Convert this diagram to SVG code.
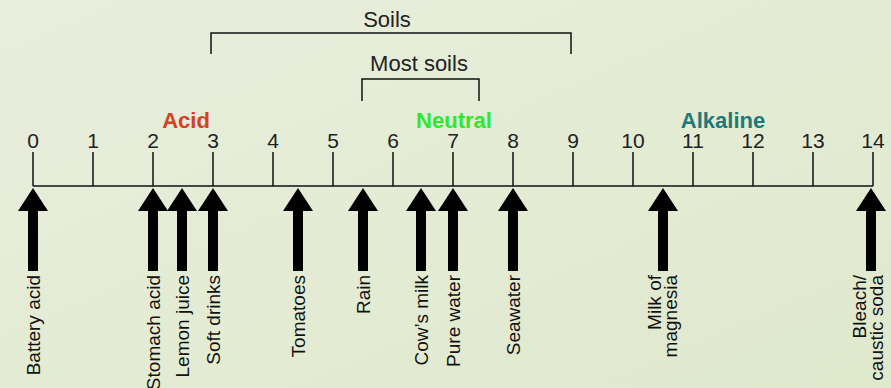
<svg xmlns="http://www.w3.org/2000/svg" width="891" height="388" viewBox="0 0 891 388">
<defs>
<linearGradient id="bg" x1="0" y1="0" x2="1" y2="1">
<stop offset="0" stop-color="#e9eedd"/>
<stop offset="1" stop-color="#dfe9cc"/>
</linearGradient>
<path id="arr" d="M0,188 L15,211 L5,211 L5,271 L-5,271 L-5,211 L-15,211 Z" fill="#000"/>
<style>
.num{font-family:"Liberation Sans",Arial,sans-serif;font-size:21px;fill:#222;text-anchor:middle}
.hd{font-family:"Liberation Sans",Arial,sans-serif;font-size:22px;font-weight:bold;text-anchor:middle}
.br{font-family:"Liberation Sans",Arial,sans-serif;font-size:22px;fill:#222;text-anchor:middle}
.lb{font-family:"Liberation Sans",Arial,sans-serif;font-size:19px;fill:#111;text-anchor:end}
.ln{stroke:#111;stroke-width:1.5;fill:none}
</style>
</defs>
<rect width="891" height="388" fill="url(#bg)"/>
<g id="axis">
<line class="ln" x1="33" y1="186" x2="873" y2="186"/>
<path class="ln" d="M33,152V186M93,152V186M153,152V186M213,152V186M273,152V186M333,152V186M393,152V186M453,152V186M513,152V186M573,152V186M633,152V186M693,152V186M753,152V186M813,152V186M873,152V186"/>
<text class="num" x="33" y="148">0</text>
<text class="num" x="93" y="148">1</text>
<text class="num" x="153" y="148">2</text>
<text class="num" x="213" y="148">3</text>
<text class="num" x="273" y="148">4</text>
<text class="num" x="333" y="148">5</text>
<text class="num" x="393" y="148">6</text>
<text class="num" x="453" y="148">7</text>
<text class="num" x="513" y="148">8</text>
<text class="num" x="573" y="148">9</text>
<text class="num" x="633" y="148">10</text>
<text class="num" x="693" y="148">11</text>
<text class="num" x="753" y="148">12</text>
<text class="num" x="813" y="148">13</text>
<text class="num" x="873" y="148">14</text>
</g>
<g id="regions">
<text class="hd" x="186" y="128" fill="#d4421e">Acid</text>
<text class="hd" x="454" y="128" fill="#2ee82e">Neutral</text>
<text class="hd" x="723" y="128" fill="#1e7a78">Alkaline</text>
</g>
<g id="soils">
<path class="ln" d="M211,54V33H571V54"/>
<text class="br" x="387" y="27">Soils</text>
</g>
<g id="most-soils">
<path class="ln" d="M362,101V79H479V101"/>
<text class="br" x="419" y="71">Most soils</text>
</g>
<g id="connectors">
<use href="#arr" x="33"/>
<use href="#arr" x="153"/>
<use href="#arr" x="182"/>
<use href="#arr" x="213"/>
<use href="#arr" x="298"/>
<use href="#arr" x="363"/>
<use href="#arr" x="421"/>
<use href="#arr" x="453"/>
<use href="#arr" x="513"/>
<use href="#arr" x="663"/>
<use href="#arr" x="871"/>
</g>
<g id="battery-acid"><text class="lb" transform="translate(40,275) rotate(-90)">Battery acid</text></g>
<g id="stomach-acid"><text class="lb" transform="translate(160,275) rotate(-90)">Stomach acid</text></g>
<g id="lemon-juice"><text class="lb" transform="translate(189,275) rotate(-90)">Lemon juice</text></g>
<g id="soft-drinks"><text class="lb" transform="translate(220,275) rotate(-90)">Soft drinks</text></g>
<g id="tomatoes"><text class="lb" transform="translate(305,275) rotate(-90)">Tomatoes</text></g>
<g id="rain"><text class="lb" transform="translate(370,275) rotate(-90)">Rain</text></g>
<g id="cows-milk"><text class="lb" transform="translate(428,275) rotate(-90)">Cow’s milk</text></g>
<g id="pure-water"><text class="lb" transform="translate(460,275) rotate(-90)">Pure water</text></g>
<g id="seawater"><text class="lb" transform="translate(520,275) rotate(-90)">Seawater</text></g>
<g id="milk-of-magnesia"><text class="lb" transform="translate(661,275) rotate(-90)"><tspan x="0" y="0">Milk of</tspan><tspan x="0" y="16">magnesia</tspan></text></g>
<g id="bleach"><text class="lb" transform="translate(866,275) rotate(-90)"><tspan x="0" y="0">Bleach/</tspan><tspan x="0" y="17">caustic soda</tspan></text></g>
</svg>
